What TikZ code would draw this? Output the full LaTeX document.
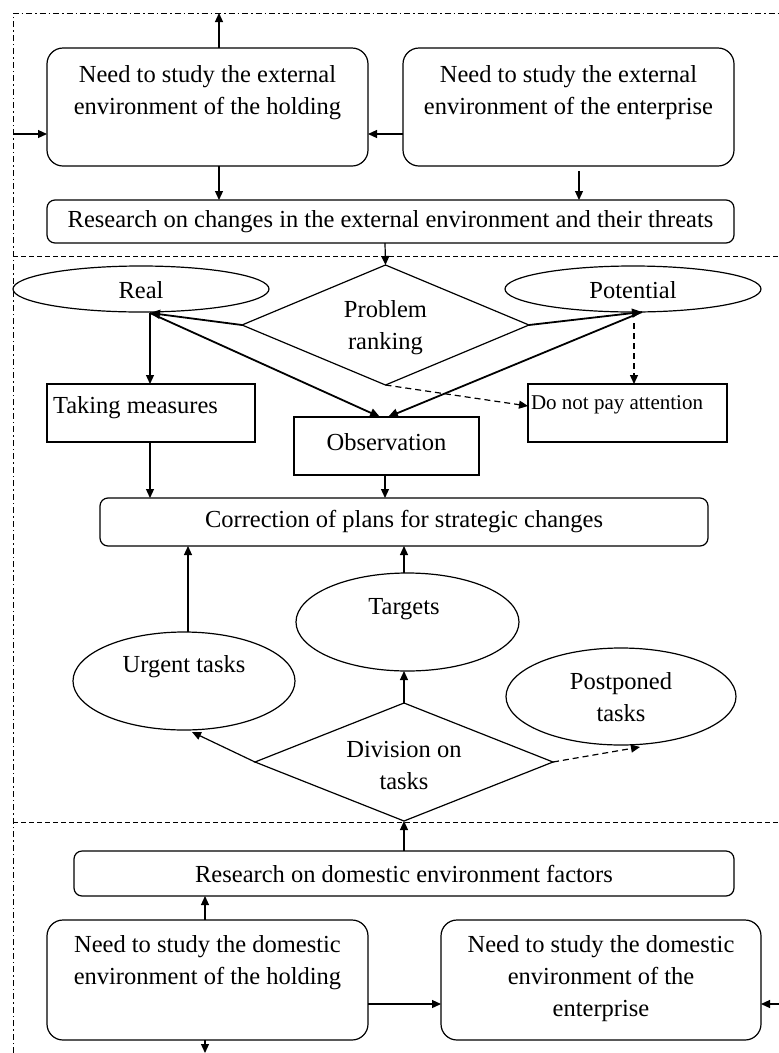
\documentclass[tikz,border=0pt]{standalone}
\usepackage{fontspec}
\setmainfont{Liberation Serif}
\usetikzlibrary{shapes.geometric,arrows.meta}
\begin{document}
\begin{tikzpicture}[x=1pt,y=-1pt,
  every node/.style={inner sep=0pt,outer sep=0pt},
  ln/.style={line width=1.1pt},
  rbox/.style={draw,line width=1.2pt,rounded corners=16pt},
  sbox/.style={draw,line width=1.2pt,rounded corners=8pt},
  pbox/.style={draw,line width=1.2pt},
  ell/.style={draw,line width=1.2pt,ellipse},
  dia/.style={draw,line width=1.2pt,diamond},
  txt/.style={font=\fontsize{24.5}{32}\selectfont,align=center},
  arr/.style={line width=1.2pt,-{Triangle[length=9pt,width=8pt]}},
  tarr/.style={line width=1.8pt,-{Triangle[length=10pt,width=9pt]}},
  darr/.style={line width=1.2pt,dash pattern=on 6pt off 4pt,-{Triangle[length=9pt,width=8pt]}},
  frame/.style={line width=0.8pt,dash pattern=on 6pt off 3pt on 1.5pt off 3pt},
  sep/.style={line width=0.8pt,dash pattern=on 5pt off 3pt}]
\useasboundingbox (0,0) rectangle (779,1053);
% frame and separators
\coordinate (fbl) at (13,1053);
\coordinate (ftl) at (13,13);
\coordinate (ftr) at (779,13);
\draw[frame] (fbl) -- (ftl) -- (ftr);
\coordinate (s1a) at (13,256); \coordinate (s1b) at (779,256);
\coordinate (s2a) at (13,822); \coordinate (s2b) at (779,822);
\draw[sep] (s1a) -- (s1b);
\draw[sep] (s2a) -- (s2b);
% top boxes
\node[rbox,minimum width=321pt,minimum height=118pt] (h1) at (207.5,107) {};
\node[txt] (h1t) at (207.5,93) {Need to study the external\\environment of the holding};
\node[rbox,minimum width=331pt,minimum height=118pt] (h2) at (568.5,107) {};
\node[txt] (h2t) at (568.5,93) {Need to study the external\\environment of the enterprise};
\node[sbox,minimum width=687pt,minimum height=43pt] (r1) at (390.5,221.5) {};
\node[txt] (r1t) at (390.5,222) {Research on changes in the external environment and their threats};
% problem ranking
\node[dia,minimum width=287pt,minimum height=120pt] (pr) at (385.5,325) {};
\node[txt] (prt) at (385.5,328) {Problem\\ranking};
\node[ell,minimum width=256pt,minimum height=46pt] (real) at (141,289) {};
\node[txt] (realt) at (141,290) {Real};
\node[ell,minimum width=256pt,minimum height=46pt] (pot) at (633,289) {};
\node[txt] (pott) at (633,290) {Potential};
\node[pbox,minimum width=208pt,minimum height=58pt] (tm) at (151,413) {};
\node[txt,anchor=west] (tmt) at (53,408) {Taking measures};
\node[pbox,minimum width=185pt,minimum height=58pt] (obs) at (386.5,446) {};
\node[txt] (obst) at (386.5,442) {Observation};
\node[pbox,minimum width=199pt,minimum height=58pt] (dnp) at (627.5,413) {};
\node[txt,anchor=west,font=\fontsize{21}{26}\selectfont] (dnpt) at (531,405) {Do not pay attention};
\node[sbox,minimum width=608pt,minimum height=48pt] (corr) at (404,522) {};
\node[txt] (corrt) at (404,522) {Correction of plans for strategic changes};
% tasks
\node[ell,minimum width=222pt,minimum height=98pt] (urg) at (184,681) {};
\node[txt] (urgt) at (184,667) {Urgent tasks};
\node[ell,minimum width=223pt,minimum height=98pt] (tgt) at (407.5,622) {};
\node[txt] (tgtt) at (404,609) {Targets};
\node[ell,minimum width=230pt,minimum height=97pt] (pst) at (621,696.5) {};
\node[txt] (pstt) at (621,697) {Postponed\\tasks};
\node[dia,minimum width=298pt,minimum height=118pt] (div) at (404,762) {};
\node[txt] (divt) at (404,765) {Division on\\tasks};
% domestic
\node[sbox,minimum width=660pt,minimum height=45pt] (r2) at (404,873.5) {};
\node[txt] (r2t) at (404,874) {Research on domestic environment factors};
\node[rbox,minimum width=321pt,minimum height=120pt] (d1) at (207.5,980) {};
\node[txt] (d1t) at (207.5,963) {Need to study the domestic\\environment of the holding};
\node[rbox,minimum width=320pt,minimum height=120pt] (d2) at (601,980) {};
\node[txt] (d2t) at (601,979) {Need to study the domestic\\environment of the\\enterprise};
% helper coordinates
\coordinate (up1) at (219,13);
\coordinate (ya) at (0,134);
\coordinate (lin) at (13,134);
\coordinate (e2) at (579,171);
\coordinate (rp) at (150,313);
\coordinate (pp) at (642,312);
\coordinate (o1) at (380,417);
\coordinate (o2) at (388,417);
\coordinate (pd) at (634,323);
\coordinate (dy) at (0,406);
\coordinate (xm) at (150,0);
\coordinate (xo) at (385,0);
\coordinate (xu) at (188,0);
\coordinate (xt) at (404,0);
\coordinate (ub) at (192,732);
\coordinate (pb) at (640,747);
\coordinate (xd) at (205,0);
\coordinate (dn) at (205,1053);
\coordinate (yb) at (0,1004);
\coordinate (rin) at (779,1004);
% connectors, top
\draw[arr] (h1.north -| up1) -- (up1);
\draw[arr] (lin) -- (h1.west |- ya);
\draw[arr] (h2.west |- ya) -- (h1.east |- ya);
\draw[arr] (h1.south -| up1) -- (r1.north -| up1);
\draw[arr] (e2) -- (r1.north -| e2);
\draw[arr] (r1.south -| xo) -- (pr.north);
% problem ranking
\draw[tarr] (pr.west) -- (rp);
\draw[tarr] (rp) -- (o1);
\draw[tarr] (pr.east) -- (pp);
\draw[tarr] (pp) -- (o2);
\draw[darr] (pr.south) -- (dnp.west |- dy);
\draw[darr] (pd) -- (dnp.north -| pd);
\draw[arr] (rp) -- (tm.north -| rp);
\draw[arr] (tm.south -| xm) -- (corr.north -| xm);
\draw[arr] (obs.south -| xo) -- (corr.north -| xo);
% tasks
\draw[arr] (urg.north -| xu) -- (corr.south -| xu);
\draw[arr] (tgt.north -| xt) -- (corr.south -| xt);
\draw[arr] (div.north) -- (tgt.south -| div.north);
\draw[arr] (div.west) -- (ub);
\draw[darr] (div.east) -- (pb);
% domestic
\draw[arr] (r2.north -| div.south) -- (div.south);
\draw[arr] (d1.north -| xd) -- (r2.south -| xd);
\draw[arr] (d1.south -| xd) -- (dn);
\draw[arr] (d1.east |- yb) -- (d2.west |- yb);
\draw[arr] (rin) -- (d2.east |- yb);
\end{tikzpicture}
\end{document}
